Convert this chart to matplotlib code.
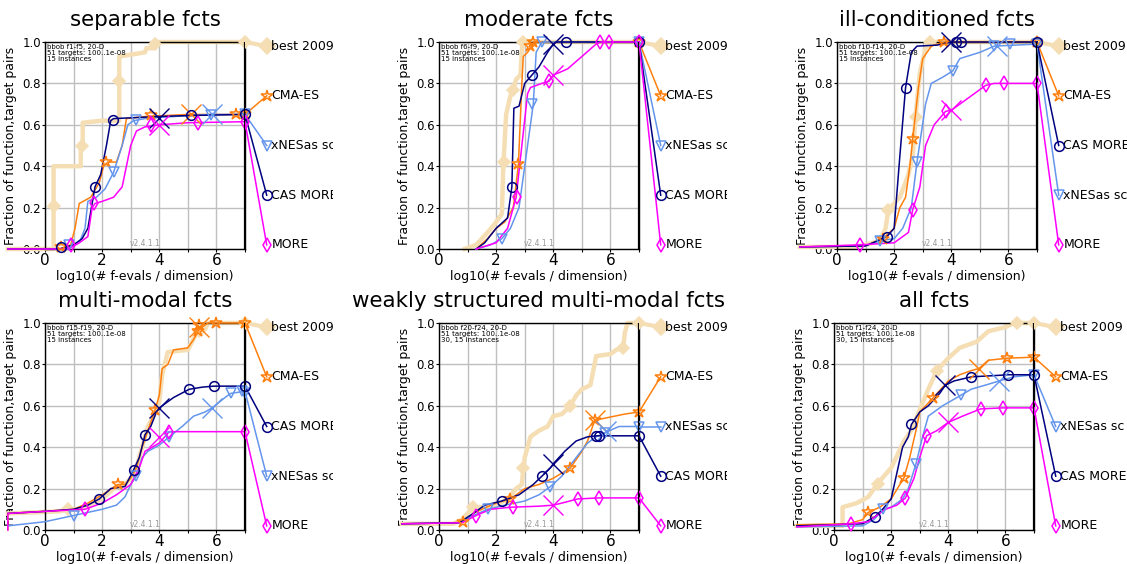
import matplotlib.pyplot as plt
from matplotlib.transforms import Bbox, TransformedBbox

# algorithms, colours and marker styles
names = ["best 2009", "CMA-ES", "xNESas sc", "CAS MORE", "MORE"]
colors = {"best 2009": "wheat", "CMA-ES": "#ff7f0e", "xNESas sc": "cornflowerblue",
          "CAS MORE": "navy", "MORE": "magenta"}
markers = {"best 2009": "D", "CMA-ES": "*", "xNESas sc": "v", "CAS MORE": "o", "MORE": "d"}

titles = ["separable fcts", "moderate fcts", "ill-conditioned fcts",
          "multi-modal fcts", "weakly structured multi-modal fcts", "all fcts"]
infos = ["bbob f1-f5, 20-D\n51 targets: 100..1e-08\n15 instances",
         "bbob f6-f9, 20-D\n51 targets: 100..1e-08\n15 instances",
         "bbob f10-f14, 20-D\n51 targets: 100..1e-08\n15 instances",
         "bbob f15-f19, 20-D\n51 targets: 100..1e-08\n15 instances",
         "bbob f20-f24, 20-D\n51 targets: 100..1e-08\n30, 15 instances",
         "bbob f1-f24, 20-D\n51 targets: 100..1e-08\n30, 15 instances"]
label_y = [0.98, 0.74, 0.50, 0.26, 0.02]

# ---- separable
sep_curves = {
    "best 2009": [(-1.3, 0), (0.3, 0), (0.3, 0.40), (1.25, 0.40), (1.25, 0.50), (1.32, 0.50), (1.32, 0.61),
                  (2.0, 0.62), (2.6, 0.62), (2.6, 0.93), (3.5, 0.95), (3.55, 0.97), (3.8, 0.97), (3.85, 1.0), (7, 1.0)],
    "CMA-ES": [(-1.3, 0), (0.5, 0), (0.9, 0.02), (1.05, 0.1), (1.2, 0.22), (1.6, 0.25), (1.9, 0.32), (2.05, 0.40),
               (2.2, 0.42), (2.5, 0.42), (2.7, 0.5), (2.85, 0.63), (3.5, 0.64), (5, 0.65), (7, 0.65)],
    "xNESas sc": [(-1.3, 0), (0.8, 0), (1.2, 0.03), (1.4, 0.1), (1.5, 0.23), (1.8, 0.25), (2.1, 0.29), (2.4, 0.37),
                  (2.7, 0.5), (2.9, 0.6), (3.1, 0.62), (3.5, 0.63), (4.5, 0.64), (5.8, 0.65), (7, 0.65)],
    "CAS MORE": [(-1.3, 0), (0.5, 0), (1.0, 0.02), (1.3, 0.05), (1.5, 0.1), (1.75, 0.3), (1.95, 0.36), (2.15, 0.5),
                 (2.3, 0.62), (2.4, 0.63), (4, 0.64), (5.1, 0.645), (7, 0.65)],
    "MORE": [(-1.3, 0), (0.8, 0), (1.2, 0.03), (1.5, 0.06), (1.65, 0.2), (1.75, 0.22), (2.0, 0.23), (2.4, 0.25),
             (2.7, 0.3), (2.85, 0.4), (3.0, 0.5), (3.2, 0.57), (3.5, 0.59), (4, 0.6), (5, 0.61), (7, 0.615)],
}
sep_marks = {
    "best 2009": [(0.3, 0.21), (1.3, 0.5), (2.6, 0.81), (3.85, 0.99), (7, 1.0)],
    "CMA-ES": [(0.55, 0.01), (2.15, 0.42), (3.7, 0.645), (6.7, 0.652), (7, 0.65)],
    "xNESas sc": [(0.85, 0.02), (2.42, 0.37), (3.2, 0.625), (5.8, 0.645), (7, 0.65)],
    "CAS MORE": [(0.55, 0.01), (1.75, 0.30), (2.38, 0.625), (5.1, 0.645), (7, 0.65)],
    "MORE": [(0.9, 0.02), (1.7, 0.22), (3.7, 0.6), (5.35, 0.61), (7, 0.615)],
}
sep_cross = {"CMA-ES": (5.1, 0.65), "xNESas sc": (5.85, 0.65), "CAS MORE": (4.0, 0.635), "MORE": (4.0, 0.60)}
sep_order = ["best 2009", "CMA-ES", "xNESas sc", "CAS MORE", "MORE"]

# ---- moderate
mod_curves = {
    "best 2009": [(0.9, 0), (1.3, 0.02), (1.7, 0.08), (2.0, 0.13), (2.2, 0.17), (2.25, 0.4), (2.35, 0.65),
                  (2.5, 0.74), (2.6, 0.77), (2.7, 0.82), (2.85, 0.84), (2.92, 1.0), (7, 1.0)],
    "CMA-ES": [(1.3, 0), (1.7, 0.05), (2.0, 0.1), (2.3, 0.13), (2.6, 0.2), (2.78, 0.41), (2.9, 0.8), (2.95, 0.93),
               (3.1, 0.95), (3.25, 0.98), (3.3, 1.0), (7, 1.0)],
    "xNESas sc": [(1.3, 0), (1.8, 0.02), (2.2, 0.05), (2.5, 0.1), (2.8, 0.2), (3.0, 0.4), (3.2, 0.6), (3.3, 0.7),
                  (3.4, 0.95), (3.6, 1.0), (7, 1.0)],
    "CAS MORE": [(1.3, 0), (1.6, 0.03), (2.0, 0.1), (2.4, 0.15), (2.55, 0.3), (2.62, 0.68), (2.8, 0.69), (3.0, 0.8),
                 (3.25, 0.84), (3.5, 0.88), (3.8, 0.95), (4.0, 0.99), (4.1, 1.0), (7, 1.0)],
    "MORE": [(1.3, 0), (2.0, 0.03), (2.4, 0.1), (2.7, 0.25), (2.9, 0.5), (3.1, 0.75), (3.2, 0.78), (3.6, 0.8),
             (3.85, 0.81), (4.0, 0.84), (4.5, 0.87), (5.0, 0.93), (5.5, 0.99), (5.65, 1.0), (7, 1.0)],
}
mod_marks = {
    "best 2009": [(2.26, 0.42), (2.6, 0.77), (2.95, 1.0), (7, 1.0)],
    "CMA-ES": [(2.78, 0.41), (3.2, 0.98), (3.28, 1.0), (7, 1.0)],
    "xNESas sc": [(2.22, 0.05), (3.27, 0.70), (3.6, 1.0), (7, 1.0)],
    "CAS MORE": [(2.57, 0.30), (3.26, 0.84), (4.45, 1.0), (7, 1.0)],
    "MORE": [(2.74, 0.25), (3.85, 0.81), (5.65, 1.0), (5.95, 1.0), (7, 1.0)],
}
mod_cross = {"CAS MORE": (4.0, 0.99), "MORE": (4.0, 0.84)}
mod_order = ["best 2009", "CMA-ES", "xNESas sc", "CAS MORE", "MORE"]

# ---- ill-conditioned
ill_curves = {
    "best 2009": [(-1.3, 0.01), (0.5, 0.01), (1.0, 0.02), (1.5, 0.04), (1.7, 0.1), (1.8, 0.19), (2.2, 0.25),
                  (2.5, 0.36), (2.65, 0.45), (2.75, 0.64), (2.9, 0.85), (3.1, 0.97), (3.25, 1.0), (7, 1.0)],
    "CMA-ES": [(-1.3, 0.01), (1.0, 0.015), (1.6, 0.05), (2.0, 0.1), (2.2, 0.2), (2.4, 0.25), (2.55, 0.4),
               (2.65, 0.53), (2.85, 0.78), (3.0, 0.92), (3.3, 0.98), (3.75, 1.0), (7, 1.0)],
    "xNESas sc": [(-1.3, 0.01), (1.0, 0.015), (1.5, 0.04), (2.0, 0.05), (2.3, 0.1), (2.6, 0.2), (2.8, 0.42),
                  (3.1, 0.7), (3.3, 0.8), (3.7, 0.83), (4.05, 0.86), (4.3, 0.92), (5.0, 0.95), (5.5, 0.98), (7, 0.99)],
    "CAS MORE": [(-1.3, 0.01), (1.0, 0.015), (1.75, 0.06), (2.0, 0.1), (2.2, 0.45), (2.4, 0.78), (2.6, 0.95),
                 (2.8, 0.98), (3.5, 0.985), (4.0, 1.0), (7, 1.0)],
    "MORE": [(-1.3, 0.01), (0.8, 0.02), (2.0, 0.03), (2.5, 0.08), (2.65, 0.19), (2.9, 0.3), (3.1, 0.5), (3.4, 0.6),
             (3.8, 0.665), (4.0, 0.67), (4.5, 0.72), (4.9, 0.76), (5.2, 0.79), (5.5, 0.8), (7, 0.8)],
}
ill_marks = {
    "best 2009": [(1.8, 0.19), (2.75, 0.64), (3.25, 1.0), (7, 1.0)],
    "CMA-ES": [(1.6, 0.05), (2.65, 0.53), (3.75, 1.0), (7, 1.0)],
    "xNESas sc": [(1.5, 0.04), (2.8, 0.42), (4.05, 0.86), (5.5, 0.98), (6.05, 0.99), (7, 0.99)],
    "CAS MORE": [(1.75, 0.06), (2.4, 0.78), (4.15, 1.0), (4.35, 1.0), (7, 1.0)],
    "MORE": [(0.82, 0.02), (2.65, 0.19), (3.8, 0.665), (5.2, 0.79), (5.85, 0.8), (7, 0.8)],
}
ill_cross = {"xNESas sc": (5.6, 0.98), "CAS MORE": (4.0, 1.0), "MORE": (4.0, 0.67)}
ill_order = ["best 2009", "CMA-ES", "CAS MORE", "xNESas sc", "MORE"]

# ---- multi-modal
mul_curves = {
    "best 2009": [(-1.3, 0.08), (0.5, 0.09), (0.8, 0.1), (1.2, 0.1), (2.0, 0.15), (2.4, 0.2), (2.8, 0.22),
                  (3.0, 0.25), (3.2, 0.3), (3.4, 0.4), (3.6, 0.5), (3.8, 0.55), (4.0, 0.62), (4.1, 0.75),
                  (4.3, 0.86), (5.0, 0.87), (5.3, 0.95), (5.6, 0.97), (5.7, 1.0), (7, 1.0)],
    "CMA-ES": [(-1.3, 0.0), (-1.3, 0.08), (0.0, 0.09), (1.0, 0.1), (1.5, 0.13), (2.0, 0.17), (2.55, 0.22),
               (2.8, 0.22), (3.0, 0.25), (3.2, 0.3), (3.4, 0.4), (3.7, 0.52), (3.85, 0.58), (4.0, 0.65),
               (4.1, 0.78), (4.3, 0.8), (4.5, 0.87), (5.0, 0.88), (5.2, 0.92), (5.4, 0.97), (5.7, 1.0), (7, 1.0)],
    "xNESas sc": [(-1.3, 0.02), (0, 0.04), (1.0, 0.07), (2.0, 0.1), (2.5, 0.12), (2.8, 0.16), (3.0, 0.22),
                  (3.2, 0.26), (3.4, 0.35), (3.6, 0.38), (4.0, 0.41), (4.35, 0.45), (4.8, 0.5), (5.2, 0.55),
                  (5.6, 0.57), (5.85, 0.59), (6.3, 0.64), (6.5, 0.66), (7, 0.67)],
    "CAS MORE": [(-1.3, 0.08), (0, 0.09), (1.0, 0.1), (1.5, 0.12), (1.9, 0.15), (2.3, 0.2), (2.8, 0.21),
                 (3.1, 0.29), (3.3, 0.35), (3.5, 0.46), (3.7, 0.5), (3.9, 0.57), (4.0, 0.59), (4.5, 0.64),
                 (5.05, 0.68), (5.5, 0.69), (5.9, 0.695), (7, 0.695)],
    "MORE": [(-1.3, 0.0), (-1.3, 0.08), (0, 0.09), (1.4, 0.1), (2.0, 0.13), (2.5, 0.17), (3.0, 0.22), (3.3, 0.3),
             (3.5, 0.38), (4.0, 0.42), (4.35, 0.475), (7, 0.475)],
}
mul_marks = {
    "best 2009": [(0.8, 0.1), (5.4, 0.96), (7, 1.0)],
    "CMA-ES": [(2.55, 0.22), (3.85, 0.58), (5.35, 0.96), (5.4, 0.99), (6.0, 1.0), (7, 1.0)],
    "xNESas sc": [(1.0, 0.07), (3.2, 0.26), (4.35, 0.45), (6.5, 0.66), (6.9, 0.67), (7, 0.66)],
    "CAS MORE": [(1.9, 0.15), (3.1, 0.29), (3.5, 0.46), (5.05, 0.68), (5.9, 0.695), (7, 0.695)],
    "MORE": [(1.4, 0.1), (4.35, 0.475), (7, 0.475)],
}
mul_cross = {"CMA-ES": (5.4, 0.98), "xNESas sc": (5.85, 0.59), "CAS MORE": (4.0, 0.59), "MORE": (4.0, 0.45)}
mul_order = ["best 2009", "CMA-ES", "CAS MORE", "xNESas sc", "MORE"]

# ---- weakly structured multi-modal
wea_curves = {
    "best 2009": [(-1.3, 0.03), (0.5, 0.03), (0.8, 0.05), (1.0, 0.08), (1.2, 0.11), (1.5, 0.11), (2.0, 0.12),
                  (2.4, 0.15), (2.7, 0.2), (2.9, 0.22), (2.95, 0.3), (3.0, 0.35), (3.2, 0.45), (3.5, 0.48),
                  (3.8, 0.5), (4.0, 0.55), (4.3, 0.56), (4.6, 0.6), (4.8, 0.65), (5.0, 0.68), (5.3, 0.7),
                  (5.5, 0.84), (6.0, 0.85), (6.2, 0.87), (6.45, 0.88), (6.5, 0.95), (6.6, 1.0), (7, 1.0)],
    "CMA-ES": [(-1.3, 0.03), (0.5, 0.035), (0.85, 0.04), (1.2, 0.08), (1.5, 0.1), (2.0, 0.13), (2.5, 0.15),
               (3.0, 0.2), (3.5, 0.22), (4.0, 0.25), (4.6, 0.3), (5.0, 0.38), (5.2, 0.43), (5.45, 0.53),
               (5.8, 0.54), (6.5, 0.56), (7, 0.57)],
    "xNESas sc": [(-1.3, 0.03), (0.7, 0.035), (1.2, 0.07), (1.7, 0.1), (2.3, 0.12), (3.0, 0.14), (3.5, 0.17),
                  (3.9, 0.21), (4.3, 0.26), (4.8, 0.35), (5.2, 0.42), (5.5, 0.45), (5.8, 0.47), (6.3, 0.5), (7, 0.5)],
    "CAS MORE": [(-1.3, 0.03), (0.7, 0.035), (1.2, 0.08), (1.6, 0.12), (2.2, 0.14), (2.8, 0.17), (3.3, 0.22),
                 (3.6, 0.26), (3.9, 0.3), (4.0, 0.32), (4.4, 0.38), (4.8, 0.43), (5.2, 0.45), (5.5, 0.455),
                 (7, 0.455)],
    "MORE": [(-1.3, 0.03), (0.8, 0.035), (1.3, 0.07), (1.8, 0.1), (2.5, 0.11), (3.5, 0.115), (4.0, 0.12),
             (4.3, 0.13), (4.85, 0.15), (5.6, 0.155), (7, 0.155)],
}
wea_marks = {
    "best 2009": [(1.2, 0.11), (2.95, 0.3), (4.6, 0.6), (6.45, 0.88), (7, 1.0)],
    "CMA-ES": [(0.85, 0.04), (2.5, 0.15), (4.6, 0.3), (5.45, 0.53), (7, 0.57)],
    "xNESas sc": [(1.7, 0.1), (3.9, 0.21), (5.8, 0.47), (7, 0.5)],
    "CAS MORE": [(2.2, 0.14), (3.6, 0.26), (5.5, 0.455), (5.6, 0.455), (7, 0.455)],
    "MORE": [(1.3, 0.07), (2.6, 0.11), (4.85, 0.15), (5.6, 0.155), (7, 0.155)],
}
wea_cross = {"CMA-ES": (5.45, 0.53), "xNESas sc": (5.85, 0.48), "CAS MORE": (4.0, 0.32), "MORE": (4.0, 0.12)}
wea_order = ["best 2009", "CMA-ES", "xNESas sc", "CAS MORE", "MORE"]

# ---- all functions
all_curves = {
    "best 2009": [(-1.3, 0.02), (0.3, 0.02), (0.3, 0.11), (0.8, 0.13), (1.2, 0.16), (1.5, 0.22), (2.0, 0.3),
                  (2.45, 0.43), (2.7, 0.48), (3.0, 0.58), (3.3, 0.68), (3.6, 0.77), (4.0, 0.83), (4.4, 0.88),
                  (5.0, 0.91), (5.4, 0.96), (6.0, 0.98), (6.3, 1.0), (7, 1.0)],
    "CMA-ES": [(-1.3, 0.025), (0.5, 0.03), (1.0, 0.05), (1.2, 0.085), (1.6, 0.11), (2.0, 0.15), (2.45, 0.253),
               (2.65, 0.35), (2.9, 0.5), (3.0, 0.57), (3.48, 0.64), (4.0, 0.72), (4.4, 0.75), (4.8, 0.77),
               (5.07, 0.78), (5.4, 0.82), (6.07, 0.83), (7, 0.835)],
    "xNESas sc": [(-1.3, 0.015), (1.0, 0.02), (1.4, 0.05), (1.72, 0.1), (2.0, 0.11), (2.4, 0.15), (2.6, 0.2),
                  (2.87, 0.32), (3.1, 0.45), (3.3, 0.55), (3.8, 0.6), (4.43, 0.65), (4.8, 0.68), (5.3, 0.7),
                  (5.78, 0.72), (6.3, 0.74), (7, 0.75)],
    "CAS MORE": [(-1.3, 0.02), (1.0, 0.03), (1.44, 0.065), (1.7, 0.1), (2.0, 0.15), (2.4, 0.4), (2.6, 0.45),
                 (2.71, 0.51), (3.0, 0.57), (3.3, 0.6), (3.7, 0.66), (3.9, 0.7), (4.2, 0.72), (4.81, 0.74),
                 (5.5, 0.745), (6.1, 0.75), (7, 0.75)],
    "MORE": [(-1.3, 0.015), (0.6, 0.03), (1.2, 0.04), (1.5, 0.07), (1.8, 0.1), (2.2, 0.12), (2.5, 0.155),
             (2.8, 0.25), (3.0, 0.35), (3.24, 0.455), (3.6, 0.48), (4.0, 0.52), (4.5, 0.55), (5.13, 0.585),
             (5.9, 0.59), (7, 0.59)],
}
all_marks = {
    "best 2009": [(1.55, 0.22), (3.6, 0.77), (6.4, 1.0), (7, 1.0)],
    "CMA-ES": [(1.2, 0.085), (2.45, 0.253), (3.48, 0.64), (6.07, 0.83), (7, 0.835)],
    "xNESas sc": [(1.72, 0.1), (2.87, 0.32), (4.43, 0.65), (7, 0.75)],
    "CAS MORE": [(1.44, 0.065), (2.71, 0.51), (4.81, 0.74), (6.1, 0.75), (7, 0.75)],
    "MORE": [(0.6, 0.03), (2.5, 0.155), (3.24, 0.455), (5.13, 0.585), (5.9, 0.59), (7, 0.59)],
}
all_cross = {"CMA-ES": (5.07, 0.78), "xNESas sc": (5.78, 0.72), "CAS MORE": (3.9, 0.7), "MORE": (4.0, 0.52)}
all_order = ["best 2009", "CMA-ES", "xNESas sc", "CAS MORE", "MORE"]

panels = [(sep_curves, sep_marks, sep_cross, sep_order),
          (mod_curves, mod_marks, mod_cross, mod_order),
          (ill_curves, ill_marks, ill_cross, ill_order),
          (mul_curves, mul_marks, mul_cross, mul_order),
          (wea_curves, wea_marks, wea_cross, wea_order),
          (all_curves, all_marks, all_cross, all_order)]

W, H = 1127, 564
fig = plt.figure(figsize=(W / 100, H / 100), dpi=100)

# pixel positions of x=0 for each panel, and of the plot frames
lefts = [45, 439, 837, 45, 439, 834]
tops = [42, 42, 42, 323, 323, 323]
clip_right = [333, 727, 1127]

for k, (curves, marks, cross, order) in enumerate(panels):
    ax = fig.add_axes([lefts[k] / W, (H - tops[k] - 207) / H, 200 / W, 207 / H])
    ax.set_xlim(0, 7)
    ax.set_ylim(0, 1)
    ax.set_xticks(range(8))
    ax.set_xticklabels(["0", "", "2", "", "4", "", "6", ""], fontsize=11)
    ax.set_yticks([0, 0.2, 0.4, 0.6, 0.8, 1.0])
    ax.set_yticklabels(["0.0", "0.2", "0.4", "0.6", "0.8", "1.0"], fontsize=8.5)
    ax.tick_params(length=2, pad=1)
    ax.grid(True, color="0.75", lw=1)
    ax.set_axisbelow(True)
    for s in ax.spines.values():
        s.set_linewidth(1.0)
    ax.axvline(7, color="black", lw=1.6, zorder=6)
    ax.set_title(titles[k], fontsize=15.4, pad=11.5)
    ax.set_xlabel("log10(# f-evals / dimension)", fontsize=9, labelpad=1)
    ax.set_ylabel("Fraction of function,target pairs", fontsize=9)
    ax.yaxis.set_label_coords(-0.138, 0.5)
    ax.text(0.012, 0.992, infos[k], transform=ax.transAxes, fontsize=5, va="top",
            linespacing=1.05, zorder=7)
    ax.text(2.98, 0.005, "v2.4.1.1", fontsize=5.5, color="0.6", va="bottom")

    col = k % 3
    clip = TransformedBbox(Bbox([[0, 0], [clip_right[col] / W, 1]]), fig.transFigure)

    for name in names:
        c = colors[name]
        pts = curves[name]
        xs = [p[0] for p in pts]
        ys = [p[1] for p in pts]
        if name == "best 2009":
            lw, z, ms = 3.2, 2, 6
            mfc = c
        else:
            lw, z, ms = 1.1, 4, 7
            mfc = "none"
        if name == "CMA-ES":
            ms = 9
        ax.plot(xs, ys, color=c, lw=lw, zorder=z, clip_on=False)
        mx = [p[0] for p in marks[name]]
        my = [p[1] for p in marks[name]]
        ax.plot(mx, my, ls="none", marker=markers[name], ms=ms, mfc=mfc, mec=c, mew=1.1,
                zorder=z + 1, clip_on=False)
        if name in cross:
            ax.plot(*cross[name], marker="x", ms=14, color=c, mew=1.0, zorder=z + 1, clip_on=False)
        # right-hand label
        ly = label_y[order.index(name)]
        ax.plot([7, 7.76], [ys[-1], ly], color=c, lw=lw if name != "best 2009" else 3.0,
                zorder=z, clip_on=False)
        ax.plot(7.76, ly, ls="none", marker=markers[name], ms=ms + 2 if name == "best 2009" else ms,
                mfc=mfc, mec=c, mew=1.1, zorder=z + 1, clip_on=False)
        t = ax.text(7.92, ly, name, fontsize=9, va="center", ha="left", clip_on=True)
        t.set_clip_box(clip)

fig.savefig("out.png", dpi=100)
